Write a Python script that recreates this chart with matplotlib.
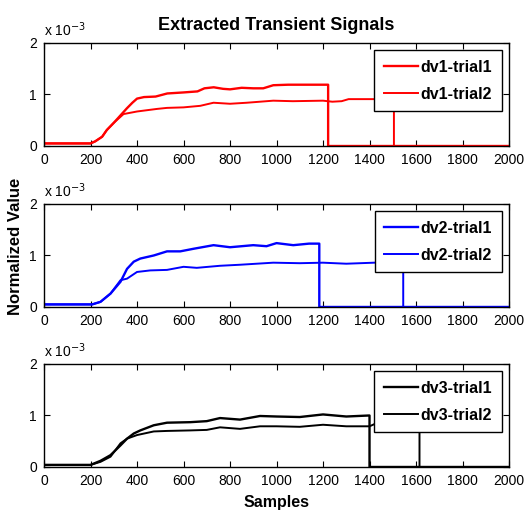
import numpy as np
import matplotlib
matplotlib.use('Agg')
import matplotlib.pyplot as plt

plt.rcParams['font.family'] = ['Liberation Sans', 'DejaVu Sans']

# values are in units of 1e-3
dv1_t1_x = [0, 200, 220, 250, 270, 300, 330, 356, 380, 400, 430, 480, 530, 600, 660, 690, 730, 770, 800, 850, 900, 943, 986, 1050, 1222]
dv1_t1_y = [0.05, 0.05, 0.09, 0.18, 0.31, 0.45, 0.6, 0.73, 0.84, 0.92, 0.95, 0.96, 1.02, 1.04, 1.06, 1.12, 1.14, 1.11, 1.10, 1.13, 1.12, 1.12, 1.18, 1.19, 1.19]
dv1_t2_x = [0, 200, 220, 250, 270, 300, 342, 400, 486, 529, 600, 672, 729, 800, 872, 986, 1070, 1200, 1240, 1280, 1310, 1505]
dv1_t2_y = [0.05, 0.05, 0.09, 0.18, 0.31, 0.45, 0.62, 0.67, 0.72, 0.74, 0.75, 0.78, 0.84, 0.82, 0.84, 0.88, 0.87, 0.88, 0.86, 0.87, 0.91, 0.91]
dv1_end = [1222, 1505]

dv2_t1_x = [0, 207, 243, 286, 329, 357, 386, 414, 472, 529, 586, 643, 729, 800, 900, 957, 1000, 1072, 1140, 1184]
dv2_t1_y = [0.05, 0.05, 0.1, 0.26, 0.49, 0.74, 0.88, 0.94, 1.0, 1.08, 1.08, 1.13, 1.2, 1.16, 1.2, 1.18, 1.24, 1.2, 1.23, 1.23]
dv2_t2_x = [0, 207, 243, 286, 329, 357, 400, 457, 529, 600, 657, 757, 843, 986, 1100, 1200, 1300, 1420, 1545]
dv2_t2_y = [0.05, 0.05, 0.1, 0.26, 0.52, 0.55, 0.68, 0.71, 0.72, 0.78, 0.76, 0.8, 0.82, 0.86, 0.85, 0.86, 0.84, 0.86, 0.86]
dv2_end = [1184, 1545]

dv3_t1_x = [0, 200, 243, 286, 329, 357, 386, 414, 472, 529, 629, 700, 757, 843, 929, 1000, 1100, 1200, 1300, 1400]
dv3_t1_y = [0.04, 0.04, 0.12, 0.23, 0.42, 0.55, 0.65, 0.71, 0.81, 0.86, 0.87, 0.89, 0.95, 0.92, 0.99, 0.98, 0.97, 1.02, 0.98, 1.0]
dv3_t2_x = [0, 200, 243, 286, 329, 357, 400, 472, 529, 629, 700, 757, 843, 929, 1000, 1100, 1200, 1300, 1400, 1420, 1615]
dv3_t2_y = [0.04, 0.04, 0.1, 0.2, 0.46, 0.55, 0.62, 0.69, 0.7, 0.71, 0.72, 0.77, 0.74, 0.79, 0.79, 0.78, 0.82, 0.79, 0.79, 0.83, 0.83]
dv3_end = [1400, 1615]

panels = [
    ('dv1', 'red', (dv1_t1_x, dv1_t1_y), (dv1_t2_x, dv1_t2_y), dv1_end),
    ('dv2', 'blue', (dv2_t1_x, dv2_t1_y), (dv2_t2_x, dv2_t2_y), dv2_end),
    ('dv3', 'black', (dv3_t1_x, dv3_t1_y), (dv3_t2_x, dv3_t2_y), dv3_end),
]

fig = plt.figure(figsize=(5.26, 5.13), dpi=100)
bottoms = [0.7154, 0.4016, 0.0897]

axes = []
for (name, col, tr1, tr2, ends), b in zip(panels, bottoms):
    ax = fig.add_axes([0.0837, b, 0.884, 0.2008])
    for k, (xs, ys) in enumerate([tr1, tr2]):
        # signal drops to zero once the trial ends
        xx = list(xs) + [ends[k], 2000]
        yy = list(ys) + [0, 0]
        ax.plot(xx, yy, color=col, lw=1.7 if k == 0 else 1.4,
                label=f'{name}-trial{k + 1}')
    ax.set_xlim(0, 2000)
    ax.set_ylim(0, 2)
    ax.set_xticks(np.arange(0, 2001, 200))
    ax.set_yticks([0, 1, 2])
    ax.tick_params(direction='in', top=True, right=True, length=4,
                   labelsize=10, pad=5)
    for s in ax.spines.values():
        s.set_linewidth(1.0)
    ax.text(0.0, 1.04, r'x 10$^{-3}$', transform=ax.transAxes,
            fontsize=10, ha='left', va='bottom')
    leg = ax.legend(loc='upper right', frameon=True,
                    fancybox=False, edgecolor='black', framealpha=1,
                    handlelength=2.1, handletextpad=0.15, labelspacing=0.72,
                    borderpad=0.62, borderaxespad=0.45,
                    prop={'weight': 'bold', 'size': 11.5})
    leg.get_frame().set_linewidth(1.0)
    axes.append(ax)

axes[0].set_title('Extracted Transient Signals', fontsize=13,
                  fontweight='bold', pad=9)
axes[2].set_xlabel('Samples', fontsize=11.5, fontweight='bold', labelpad=5)
fig.text(0.03, 0.519, 'Normalized Value', rotation=90, fontsize=12,
         fontweight='bold', ha='center', va='center')

fig.savefig('out.png', dpi=100)
